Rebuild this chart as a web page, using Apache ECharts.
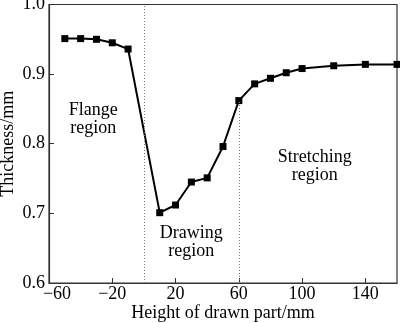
<!DOCTYPE html>
<html>
<head>
<meta charset="utf-8">
<script src="https://cdn.jsdelivr.net/npm/echarts@6/dist/echarts.min.js"></script>
<style>
  html, body { margin: 0; padding: 0; background: #fff; }
  #chart { width: 400px; height: 323px; }
</style>
</head>
<body>
<div id="chart"></div>
<script>
// Height of drawn part (mm) and measured sheet thickness (mm)
const heights = [-50, -40, -30, -20, -10, 10, 20, 30, 40, 50, 60, 70, 80, 90, 100, 120, 140, 160];
const thickness = [0.951, 0.951, 0.950, 0.945, 0.936, 0.701, 0.712, 0.745, 0.751, 0.796, 0.862, 0.886, 0.894, 0.902, 0.908, 0.912, 0.914, 0.914];

// Region boundaries (dotted guides)
const flangeEdge = 0;
const stretchEdge = 60;

// Region annotations: [label, x, y] in data units
const regionLabels = [
  ['Flange\nregion', -32, 0.835],
  ['Drawing\nregion', 30, 0.659],
  ['Stretching\nregion', 108, 0.768]
];

const FONT = '"Liberation Serif", "Times New Roman", serif';
const AXIS_COLOR = '#333';

const chart = echarts.init(document.getElementById('chart'));

const edgeValue = thickness[heights.indexOf(stretchEdge)];

chart.setOption({
  animation: false,
  backgroundColor: '#fff',
  grid: {
    left: 49, right: 3, top: 4.5, bottom: 40,
    containLabel: false,
    outerBoundsMode: 'none',
    show: true, borderColor: AXIS_COLOR, borderWidth: 1.2, backgroundColor: 'transparent'
  },
  xAxis: {
    type: 'value',
    min: -60, max: 160, interval: 40,
    name: 'Height of drawn part/mm',
    nameLocation: 'middle',
    nameGap: 21,
    nameMoveOverlap: false,
    nameTextStyle: { fontFamily: FONT, fontSize: 18, color: '#000' },
    axisLine: { onZero: false, lineStyle: { color: AXIS_COLOR, width: 1.2 } },
    axisTick: { inside: true, length: 5, lineStyle: { color: AXIS_COLOR } },
    splitLine: { show: false },
    axisLabel: {
      fontFamily: FONT, fontSize: 18, color: '#000', margin: 2,
      showMaxLabel: false,
      formatter: v => v === -60 ? '{first|\u221260}' : (v < 0 ? '\u2212' + Math.abs(v) : String(v)),
      rich: { first: { fontFamily: FONT, fontSize: 18, color: '#000', padding: [0, 0, 0, 16] } }
    }
  },
  yAxis: {
    type: 'value',
    min: 0.6, max: 1.0, interval: 0.1,
    name: 'Thickness/mm',
    nameLocation: 'middle',
    nameGap: 32,
    nameMoveOverlap: false,
    nameTextStyle: { fontFamily: FONT, fontSize: 18, color: '#000' },
    axisLine: { show: true, onZero: false, lineStyle: { color: AXIS_COLOR, width: 1.2 } },
    axisTick: { show: true, inside: true, length: 5, lineStyle: { color: AXIS_COLOR } },
    splitLine: { show: false },
    axisLabel: {
      fontFamily: FONT, fontSize: 18, color: '#000', margin: 4,
      formatter: v => v.toFixed(1)
    }
  },
  series: [{
    type: 'line',
    data: heights.map((h, i) => [h, thickness[i]]),
    symbol: 'rect',
    symbolSize: 7,
    lineStyle: { color: '#000', width: 2 },
    itemStyle: { color: '#000' },
    markLine: {
      silent: true,
      symbol: 'none',
      label: { show: false },
      lineStyle: { color: '#777', type: [1, 2], width: 1 },
      data: [
        [{ coord: [flangeEdge, 0.6] }, { coord: [flangeEdge, 1.0] }],
        [{ coord: [stretchEdge, 0.6] }, { coord: [stretchEdge, edgeValue] }]
      ]
    }
  }]
});

// Place the region annotations using the axis scales
chart.setOption({
  graphic: regionLabels.map(([text, x, y]) => {
    const p = chart.convertToPixel({ gridIndex: 0 }, [x, y]);
    return {
      type: 'text',
      x: p[0], y: p[1],
      style: {
        text: text,
        fontFamily: FONT, fontSize: 18, lineHeight: 18,
        fill: '#000', align: 'center', verticalAlign: 'middle'
      }
    };
  })
});
</script>
</body>
</html>
